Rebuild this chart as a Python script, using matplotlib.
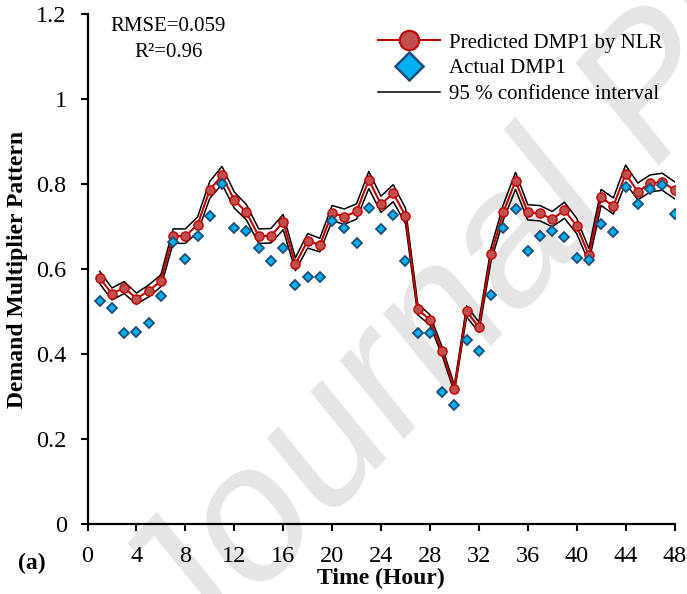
import matplotlib
matplotlib.use("Agg")
import matplotlib.pyplot as plt
from matplotlib.lines import Line2D
from matplotlib.textpath import TextPath
from matplotlib.patches import PathPatch
from matplotlib.font_manager import FontProperties
from matplotlib.transforms import Affine2D

plt.rcParams['font.family'] = ['Liberation Serif', 'DejaVu Serif']

hours = list(range(1, 49))
predicted = [0.580, 0.542, 0.557, 0.531, 0.549, 0.573, 0.678, 0.678, 0.705, 0.787,
             0.821, 0.763, 0.734, 0.678, 0.679, 0.711, 0.612, 0.667, 0.657, 0.732,
             0.724, 0.736, 0.810, 0.753, 0.779, 0.726, 0.506, 0.481, 0.407, 0.319,
             0.501, 0.464, 0.635, 0.734, 0.808, 0.734, 0.732, 0.718, 0.739, 0.702,
             0.633, 0.769, 0.749, 0.824, 0.783, 0.802, 0.806, 0.786]
actual = [0.525, 0.509, 0.449, 0.453, 0.473, 0.536, 0.665, 0.624, 0.678, 0.725,
          0.800, 0.698, 0.690, 0.651, 0.620, 0.649, 0.564, 0.583, 0.581, 0.714,
          0.697, 0.661, 0.744, 0.695, 0.728, 0.620, 0.449, 0.451, 0.311, 0.281,
          0.434, 0.407, 0.539, 0.698, 0.742, 0.642, 0.679, 0.689, 0.675, 0.626,
          0.622, 0.707, 0.688, 0.793, 0.754, 0.788, 0.799, 0.729]
upper = [0.595, 0.556, 0.571, 0.544, 0.563, 0.587, 0.695, 0.695, 0.723, 0.807,
         0.842, 0.782, 0.752, 0.695, 0.696, 0.729, 0.627, 0.684, 0.673, 0.750,
         0.742, 0.754, 0.830, 0.772, 0.799, 0.744, 0.519, 0.493, 0.417, 0.327,
         0.514, 0.476, 0.651, 0.752, 0.828, 0.752, 0.750, 0.736, 0.758, 0.720,
         0.649, 0.788, 0.768, 0.845, 0.803, 0.822, 0.826, 0.806]
lower = [0.566, 0.528, 0.543, 0.518, 0.535, 0.559, 0.661, 0.661, 0.687, 0.767,
         0.800, 0.744, 0.716, 0.661, 0.662, 0.693, 0.597, 0.650, 0.641, 0.714,
         0.706, 0.718, 0.790, 0.734, 0.759, 0.708, 0.493, 0.469, 0.397, 0.311,
         0.488, 0.452, 0.619, 0.716, 0.788, 0.716, 0.714, 0.700, 0.720, 0.684,
         0.617, 0.750, 0.730, 0.803, 0.763, 0.782, 0.786, 0.766]
x_ticks = list(range(0, 49, 4))
y_ticks = [0, 0.2, 0.4, 0.6, 0.8, 1.0, 1.2]
y_tick_labels = ['0', '0.2', '0.4', '0.6', '0.8', '1', '1.2']

fig = plt.figure(figsize=(6.87, 5.94), dpi=100)
W, H = 687, 594
ax = fig.add_axes([87.5 / W, 1 - 524.3 / H, 587 / W, 510 / H])
ax.set_facecolor('none')

# watermark
fp = FontProperties(family='Liberation Sans')
tp = TextPath((0, 0), "Journal Pre-proof", size=178, prop=fp)
tr = Affine2D().rotate_deg(43).scale(1, 1.15).translate(185, -80)
wm = PathPatch(tp, transform=tr, facecolor='#e6e6e6', edgecolor='none', zorder=-5)
fig.patches.append(wm)
wm.set_figure(fig)

red_line = '#C00000'
red_fill = '#C0504D'
blue_fill = '#00B0F0'
blue_edge = '#1F4E79'

ax.plot(hours, upper, color='black', lw=1.1, zorder=2)
ax.plot(hours, lower, color='black', lw=1.1, zorder=2)
ax.plot(hours, predicted, color=red_line, lw=1.5, marker='o', ms=6.6,
        mfc=red_fill, mec=red_line, mew=1.0, zorder=3)
ax.plot(hours, actual, ls='none', marker='D', ms=5.0, mfc=blue_fill,
        mec=blue_edge, mew=1.3, zorder=4)

ax.set_xlim(0, 48)
ax.set_ylim(0, 1.2)
ax.set_xticks(x_ticks)
ax.set_yticks(y_ticks)
ax.set_yticklabels(y_tick_labels)
for s in ['top', 'right']:
    ax.spines[s].set_visible(False)
for s in ['left', 'bottom']:
    ax.spines[s].set_linewidth(1.6)
ax.tick_params(axis='both', direction='out', length=5, width=1.5, labelsize=17.5)
ax.tick_params(axis='x', pad=10.5)
ax.tick_params(axis='y', pad=10)

ax.set_xlabel('Time (Hour)', fontsize=17, fontweight='bold', va='center')
ax.xaxis.set_label_coords(0.5, -0.107)
ax.set_ylabel('Demand Multiplier Pattern', fontsize=17, fontweight='bold', va='center')
ax.yaxis.set_label_coords(-0.119, 0.5)

fig.text(31.5 / W, 1 - 563 / H, '(a)', fontsize=17, fontweight='bold',
         ha='center', va='center')

ax.text(6.6, 1.171, 'RMSE=0.059', fontsize=15, ha='center', va='center')
ax.text(6.6, 1.110, 'R\u00b2=0.96', fontsize=15, ha='center', va='center')

handles = [
    Line2D([], [], color=red_line, lw=1.5, marker='o', ms=14, mfc=red_fill,
           mec=red_line, mew=1.5),
    Line2D([], [], ls='none', marker='D', ms=14, mfc=blue_fill, mec=blue_edge, mew=1.8),
    Line2D([], [], color='black', lw=1.1),
]
labels = ['Predicted DMP1 by NLR', 'Actual DMP1', '95 % confidence interval']
fig.legend(handles, labels, loc='upper left', bbox_to_anchor=(378 / W, 1 - 33 / H),
           frameon=False, fontsize=15, borderpad=0, borderaxespad=0,
           handlelength=3.0, handletextpad=0.4, labelspacing=0.3)

fig.savefig('out.png', dpi=100)
